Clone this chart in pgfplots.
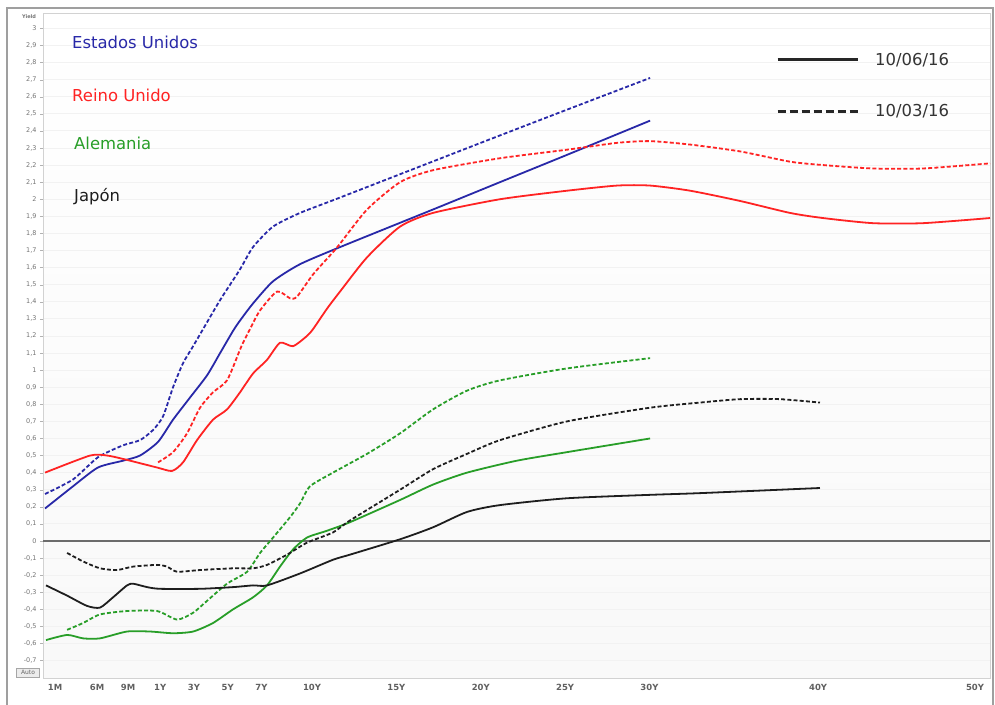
\documentclass[border=0pt]{standalone}
\usepackage{pgfplots}
\pgfplotsset{compat=1.18}
\usepackage{fontspec}
\setmainfont{DejaVu Sans}
\definecolor{usblue}{RGB}{40,40,168}
\definecolor{ukred}{RGB}{255,35,35}
\definecolor{degreen}{RGB}{40,158,40}
\definecolor{jpblack}{RGB}{30,30,30}

\pgfplotstableread{
t y
-5.83 0.19
-4.17 0.32
-2.69 0.43
-1.20 0.47
-0.20 0.50
0.87 0.58
1.76 0.71
2.77 0.84
3.78 0.97
4.55 1.10
5.32 1.23
5.73 1.29
6.50 1.39
7.69 1.52
9.29 1.62
11.66 1.72
17.17 1.94
21.14 2.10
25.12 2.26
30.04 2.46
}\usA
\pgfplotstableread{
t y
-5.83 0.275
-4.17 0.36
-2.69 0.49
-1.20 0.56
-0.20 0.59
0.58 0.65
1.17 0.73
1.76 0.90
2.35 1.04
2.95 1.14
3.54 1.24
4.55 1.41
5.73 1.59
6.50 1.72
7.69 1.84
9.29 1.92
11.66 2.01
20.00 2.33
25.00 2.52
30.04 2.71
}\usB
\pgfplotstableread{
t y
-5.83 0.40
-3.16 0.50
-2.15 0.50
-1.20 0.48
0.81 0.43
1.70 0.41
2.35 0.46
3.18 0.59
4.13 0.71
4.96 0.77
5.73 0.87
6.50 0.98
7.33 1.06
8.10 1.16
8.87 1.14
9.70 1.20
10.06 1.24
10.89 1.36
11.66 1.46
13.26 1.66
15.22 1.84
17.17 1.92
21.14 2.00
25.12 2.05
28.08 2.08
30.04 2.08
32.41 2.05
35.37 1.99
38.33 1.92
40.29 1.89
43.25 1.86
46.22 1.86
50.19 1.89
}\ukA
\pgfplotstableread{
t y
0.87 0.46
1.76 0.52
2.59 0.63
3.36 0.78
4.13 0.87
4.96 0.94
5.73 1.12
5.91 1.16
6.32 1.24
6.92 1.35
7.93 1.46
8.70 1.42
9.11 1.43
10.06 1.56
11.24 1.69
11.66 1.74
13.26 1.94
15.22 2.10
17.17 2.17
21.14 2.24
25.12 2.29
28.08 2.33
30.04 2.34
32.41 2.32
35.37 2.28
38.33 2.22
40.29 2.20
43.25 2.18
46.22 2.18
50.19 2.21
}\ukB
\pgfplotstableread{
t y
-5.77 -0.58
-4.52 -0.55
-3.57 -0.57
-2.57 -0.57
-0.97 -0.53
0.40 -0.53
1.76 -0.54
2.95 -0.53
4.13 -0.48
5.32 -0.40
6.50 -0.33
7.33 -0.26
8.10 -0.15
8.87 -0.05
9.70 0.02
10.89 0.06
12.25 0.11
15.22 0.24
17.17 0.33
19.19 0.40
22.15 0.47
25.12 0.52
30.04 0.60
}\deA
\pgfplotstableread{
t y
-4.52 -0.52
-3.57 -0.48
-2.57 -0.43
-0.97 -0.41
0.81 -0.41
2.00 -0.46
2.95 -0.42
3.78 -0.35
4.96 -0.25
6.15 -0.18
6.92 -0.07
7.69 0.02
8.70 0.14
9.29 0.22
9.88 0.32
11.24 0.40
13.26 0.51
15.22 0.63
17.17 0.77
19.19 0.88
21.14 0.94
25.12 1.01
30.04 1.07
}\deB
\pgfplotstableread{
t y
-5.77 -0.26
-4.52 -0.32
-3.34 -0.38
-2.57 -0.39
-1.80 -0.33
-0.97 -0.26
-0.61 -0.25
0.22 -0.27
0.99 -0.28
3.36 -0.28
5.32 -0.27
6.50 -0.26
7.33 -0.26
9.29 -0.19
11.24 -0.11
12.25 -0.08
15.22 0.01
17.17 0.08
19.19 0.17
21.14 0.21
25.12 0.25
30.04 0.27
33.00 0.28
40.11 0.31
}\jpA
\pgfplotstableread{
t y
-4.52 -0.07
-3.57 -0.12
-2.57 -0.16
-1.56 -0.17
-0.61 -0.15
0.81 -0.14
1.40 -0.15
2.00 -0.18
3.36 -0.17
5.32 -0.16
6.50 -0.16
7.33 -0.14
8.52 -0.08
9.70 -0.01
11.24 0.05
12.25 0.12
15.22 0.30
17.17 0.42
19.19 0.51
21.14 0.59
25.12 0.70
30.04 0.78
33.00 0.81
35.37 0.83
37.73 0.83
40.11 0.81
}\jpB

\begin{document}
\begin{tikzpicture}
\path[use as bounding box] (0,0) rectangle (995bp,-705bp);
\draw[gray!75, line width=1.5bp] (7bp,-708bp) -- (7bp,-8bp) -- (993bp,-8bp) -- (993bp,-708bp);
\begin{axis}[
  at={(43bp,-678bp)}, anchor=south west,
  scale only axis, width=947bp, height=665bp,
  xmin=-5.95, xmax=50.19, ymin=-0.802, ymax=3.09,
  axis line style={gray!35},
  axis background/.style={shade, top color=white, bottom color=gray!5},
  /pgf/number format/assume math mode=true,
  ytick={-0.7,-0.6,-0.5,-0.4,-0.3,-0.2,-0.1,0,0.1,0.2,0.3,0.4,0.5,0.6,0.7,0.8,0.9,1,1.1,1.2,1.3,1.4,1.5,1.6,1.7,1.8,1.9,2,2.1,2.2,2.3,2.4,2.5,2.6,2.7,2.8,2.9,3},
  yticklabel style={/pgf/number format/.cd, use comma, fixed, precision=1, /tikz/.cd, font=\fontsize{6.5}{7}\selectfont, text=gray!90!black},
  ytick pos=left, tick align=outside, major tick length=3bp,
  y tick style={gray!60},
  ymajorgrids, major grid style={gray!10, line width=0.8bp},
  xtick={-5.23,-2.74,-0.91,1,3,5,7,10,15,20,25,30,40,49.3},
  xticklabels={1M,6M,9M,1Y,3Y,5Y,7Y,10Y,15Y,20Y,25Y,30Y,40Y,50Y},
  x tick style={draw=none},
  xticklabel style={font=\bfseries\fontsize{8.5}{10}\selectfont, text=gray!75!black},
  legend style={draw=none, fill=none, at={(0.774,0.943)}, anchor=north west,
    inner sep=0pt, font=\fontsize{16.5}{19}\selectfont, text=black!80,
    row sep=34bp, column sep=14bp, cells={anchor=west}},
  legend image code/.code={\draw[#1] (0bp,0bp) -- (80bp,0bp);},
]
\draw[gray!85!black, line width=1.3bp] (axis cs:-5.95,0) -- (axis cs:50.19,0);
\addplot[usblue, line width=1.8bp, smooth, tension=0.4, forget plot] table {\usA};
\addplot[usblue, line width=1.8bp, dash pattern=on 4bp off 2.2bp, smooth, tension=0.4, forget plot] table {\usB};
\addplot[ukred, line width=1.8bp, smooth, tension=0.4, forget plot] table {\ukA};
\addplot[ukred, line width=1.8bp, dash pattern=on 4bp off 2.2bp, smooth, tension=0.4, forget plot] table {\ukB};
\addplot[degreen, line width=1.8bp, smooth, tension=0.4, forget plot] table {\deA};
\addplot[degreen, line width=1.8bp, dash pattern=on 4bp off 2.2bp, smooth, tension=0.4, forget plot] table {\deB};
\addplot[jpblack, line width=1.8bp, smooth, tension=0.4, forget plot] table {\jpA};
\addplot[jpblack, line width=1.8bp, dash pattern=on 4bp off 2.2bp, smooth, tension=0.4, forget plot] table {\jpB};
\addlegendimage{black!85, line width=3bp}
\addlegendentry{10/06/16}
\addlegendimage{black!85, line width=3bp, dash pattern=on 8bp off 4bp}
\addlegendentry{10/03/16}
\end{axis}
\node[anchor=west, text=usblue, font=\fontsize{16.5}{19}\selectfont, inner sep=0pt] at (72bp,-42bp) {Estados Unidos};
\node[anchor=west, text=ukred, font=\fontsize{16.5}{19}\selectfont, inner sep=0pt] at (72bp,-95bp) {Reino Unido};
\node[anchor=west, text=degreen, font=\fontsize{16.5}{19}\selectfont, inner sep=0pt] at (74bp,-143bp) {Alemania};
\node[anchor=west, text=jpblack, font=\fontsize{16.5}{19}\selectfont, inner sep=0pt] at (74bp,-197bp) {Japón};
\node[font=\bfseries\fontsize{5}{6}\selectfont, text=gray!90!black, inner sep=0pt] at (29bp,-17bp) {Yield};
\node[draw=gray!70, fill=gray!15, font=\fontsize{6}{7}\selectfont, text=gray!80!black, inner sep=1bp, minimum width=23bp, minimum height=9bp] at (28bp,-672.5bp) {Auto};
\end{tikzpicture}
\end{document}
